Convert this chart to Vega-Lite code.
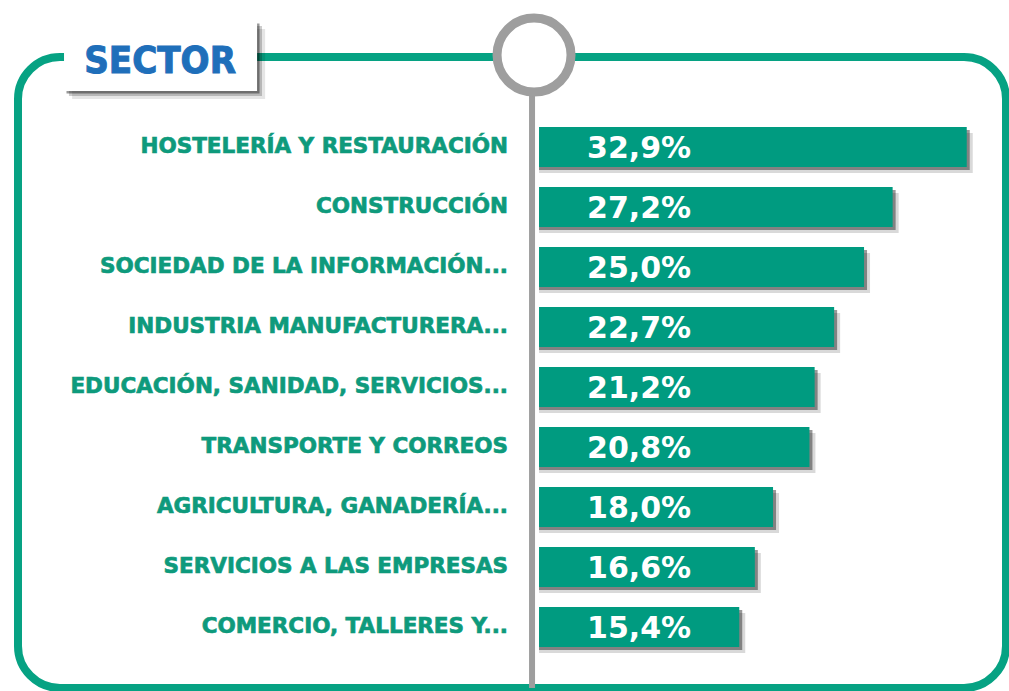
{
  "$schema": "https://vega.github.io/schema/vega-lite/v6.json",
  "width": 988,
  "height": 631,
  "autosize": "none",
  "padding": {"left": 18, "top": 57, "right": 3, "bottom": 3},
  "background": "white",
  "config": {
    "view": {"stroke": "#06a283", "strokeWidth": 8, "cornerRadius": 42},
    "locale": {"number": {"decimal": ",", "thousands": ".", "grouping": [3], "currency": ["", " €"]}}
  },
  "layer": [
    {
      "data": {
        "values": [
          {"sector": "HOSTELERÍA Y RESTAURACIÓN", "value": 0.329},
          {"sector": "CONSTRUCCIÓN", "value": 0.272},
          {"sector": "SOCIEDAD DE LA INFORMACIÓN...", "value": 0.25},
          {"sector": "INDUSTRIA MANUFACTURERA...", "value": 0.227},
          {"sector": "EDUCACIÓN, SANIDAD, SERVICIOS...", "value": 0.212},
          {"sector": "TRANSPORTE Y CORREOS", "value": 0.208},
          {"sector": "AGRICULTURA, GANADERÍA...", "value": 0.18},
          {"sector": "SERVICIOS A LAS EMPRESAS", "value": 0.166},
          {"sector": "COMERCIO, TALLERES Y...", "value": 0.154}
        ]
      },
      "encoding": {
        "y": {
          "field": "sector",
          "type": "nominal",
          "sort": null,
          "axis": null,
          "scale": {"paddingInner": 0.3333, "paddingOuter": 0.925, "align": 0.63}
        }
      },
      "layer": [
        {
          "mark": {"type": "bar", "color": "#000000", "opacity": 0.15, "xOffset": 6, "yOffset": 6},
          "encoding": {
            "x": {"field": "value", "type": "quantitative", "axis": null, "scale": {"domain": [-0.4008, 0.3592], "nice": false, "zero": false}},
            "x2": {"datum": 0}
          }
        },
        {
          "mark": {"type": "bar", "color": "#000000", "opacity": 0.4, "xOffset": 3, "yOffset": 3},
          "encoding": {
            "x": {"field": "value", "type": "quantitative"},
            "x2": {"datum": 0}
          }
        },
        {
          "mark": {"type": "bar", "color": "#009b80"},
          "encoding": {
            "x": {"field": "value", "type": "quantitative"},
            "x2": {"datum": 0}
          }
        },
        {
          "mark": {"type": "text", "align": "left", "baseline": "middle", "dx": 48, "dy": 2, "font": "DejaVu Sans", "fontWeight": "bold", "fontSize": 30, "fill": "white"},
          "encoding": {
            "x": {"datum": 0},
            "text": {"field": "value", "type": "quantitative", "format": ".1%"}
          }
        },
        {
          "mark": {"type": "text", "align": "right", "baseline": "middle", "dx": -31, "dy": 0, "font": "DejaVu Sans", "fontWeight": "bold", "fontSize": 21.5, "fill": "#0e9a7c", "stroke": "#0e9a7c", "strokeWidth": 0.7},
          "encoding": {
            "x": {"datum": 0},
            "text": {"field": "sector"}
          }
        }
      ]
    },
    {
      "data": {"values": [{"title": "SECTOR"}]},
      "layer": [
        {
          "mark": {"type": "rule", "color": "#9e9e9e", "strokeWidth": 6, "xOffset": -7},
          "encoding": {"x": {"datum": 0}}
        },
        {
          "mark": {"type": "rect", "color": "#000000", "opacity": 0.1},
          "encoding": {
            "x": {"datum": -0.3592},
            "x2": {"datum": -0.2107},
            "y": {"datum": 1.0443, "type": "quantitative", "axis": null, "scale": {"domain": [0, 1], "nice": false, "zero": false}},
            "y2": {"datum": 0.9333}
          }
        },
        {
          "mark": {"type": "rect", "color": "#000000", "opacity": 0.2},
          "encoding": {
            "x": {"datum": -0.3616},
            "x2": {"datum": -0.2131},
            "y": {"datum": 1.0491, "type": "quantitative"},
            "y2": {"datum": 0.9381}
          }
        },
        {
          "mark": {"type": "rect", "color": "#000000", "opacity": 0.4},
          "encoding": {
            "x": {"datum": -0.3635},
            "x2": {"datum": -0.215},
            "y": {"datum": 1.053, "type": "quantitative"},
            "y2": {"datum": 0.942}
          }
        },
        {
          "mark": {"type": "rect", "color": "white", "opacity": 1},
          "encoding": {
            "x": {"datum": -0.3654},
            "x2": {"datum": -0.2169},
            "y": {"datum": 1.057, "type": "quantitative"},
            "y2": {"datum": 0.946}
          }
        },
        {
          "mark": {"type": "text", "align": "center", "baseline": "middle", "font": "DejaVu Sans Condensed", "fontWeight": "bold", "fontSize": 38, "fill": "#1f6fba", "stroke": "#1f6fba", "strokeWidth": 1},
          "encoding": {
            "x": {"datum": -0.2915},
            "y": {"datum": 0.992, "type": "quantitative"},
            "text": {"field": "title"}
          }
        },
        {
          "mark": {"type": "point", "shape": "circle", "fill": "white", "stroke": "#9e9e9e", "strokeWidth": 9, "size": 5476, "opacity": 1, "fillOpacity": 1, "strokeOpacity": 1, "xOffset": -5},
          "encoding": {
            "x": {"datum": 0},
            "y": {"datum": 1.003, "type": "quantitative"}
          }
        }
      ]
    }
  ],
  "resolve": {"scale": {"y": "independent"}}
}
